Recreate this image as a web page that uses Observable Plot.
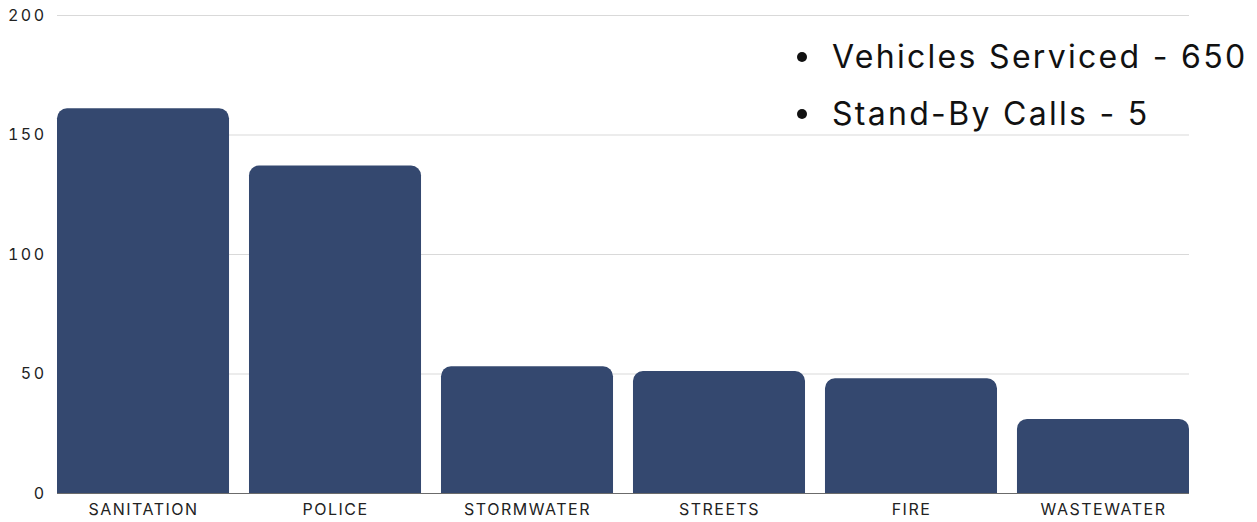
<!DOCTYPE html>
<html>
<head>
<meta charset="utf-8">
<script src="https://cdn.jsdelivr.net/npm/d3@7"></script>
<script src="https://cdn.jsdelivr.net/npm/@observablehq/plot@0.6"></script>
<style>
  html, body { margin: 0; padding: 0; background: #fff; }
  #wrap { position: relative; width: 1257px; height: 522px; overflow: hidden; }
  #legend { position: absolute; left: 797px; top: 28px; margin: 0; padding: 0; list-style: none;
            font-family: Inter, "Noto Sans", sans-serif; font-size: 32px; letter-spacing: 2.3px; color: #111; }
  #legend li { height: 57px; display: flex; align-items: center; white-space: nowrap; }
  #legend .dot { display: inline-block; width: 10px; height: 10px; border-radius: 50%; background: #111; margin-right: 25px; }
  g[aria-label="x-axis tick label"] text { letter-spacing: 1.5px; }
  g[aria-label="y-axis tick label"] text { letter-spacing: 2.5px; }
</style>
</head>
<body>
<div id="wrap">
  <div id="chart"></div>
  <ul id="legend"></ul>
</div>
<script>
const departments = ["SANITATION", "POLICE", "STORMWATER", "STREETS", "FIRE", "WASTEWATER"];
const counts = [161, 137, 53, 51, 48, 31];
const yTicks = [0, 50, 100, 150, 200];
const legendItems = ["Vehicles Serviced - 650", "Stand-By Calls - 5"];

const data = departments.map((d, i) => ({department: d, count: counts[i]}));

const chart = Plot.plot({
  width: 1257,
  height: 522,
  marginLeft: 57,
  marginRight: 68,
  marginTop: 15,
  marginBottom: 29,
  style: {fontFamily: "Inter, 'Noto Sans', sans-serif", fontSize: "16px", color: "#222", background: "#fff"},
  x: {domain: departments, paddingInner: 0.104, paddingOuter: 0, round: false, label: null},
  y: {domain: [0, 200], label: null},
  marks: [
    Plot.gridY(yTicks, {stroke: "#d9d9d9", strokeOpacity: 1}),
    Plot.barY(data, {x: "department", y: "count", fill: "#34486f", inset: 0, ry1: 10}),
    Plot.ruleY([0], {stroke: "#6b6b6b"}),
    Plot.axisY(yTicks, {tickSize: 0, tickPadding: 11, label: null, fill: "#222"}),
    Plot.axisX({tickSize: 0, tickPadding: 10, label: null, fill: "#222"})
  ]
});
document.getElementById("chart").appendChild(chart);

const ul = document.getElementById("legend");
legendItems.forEach(t => {
  const li = document.createElement("li");
  const dot = document.createElement("span");
  dot.className = "dot";
  li.appendChild(dot);
  li.appendChild(document.createTextNode(t));
  ul.appendChild(li);
});
</script>
</body>
</html>
